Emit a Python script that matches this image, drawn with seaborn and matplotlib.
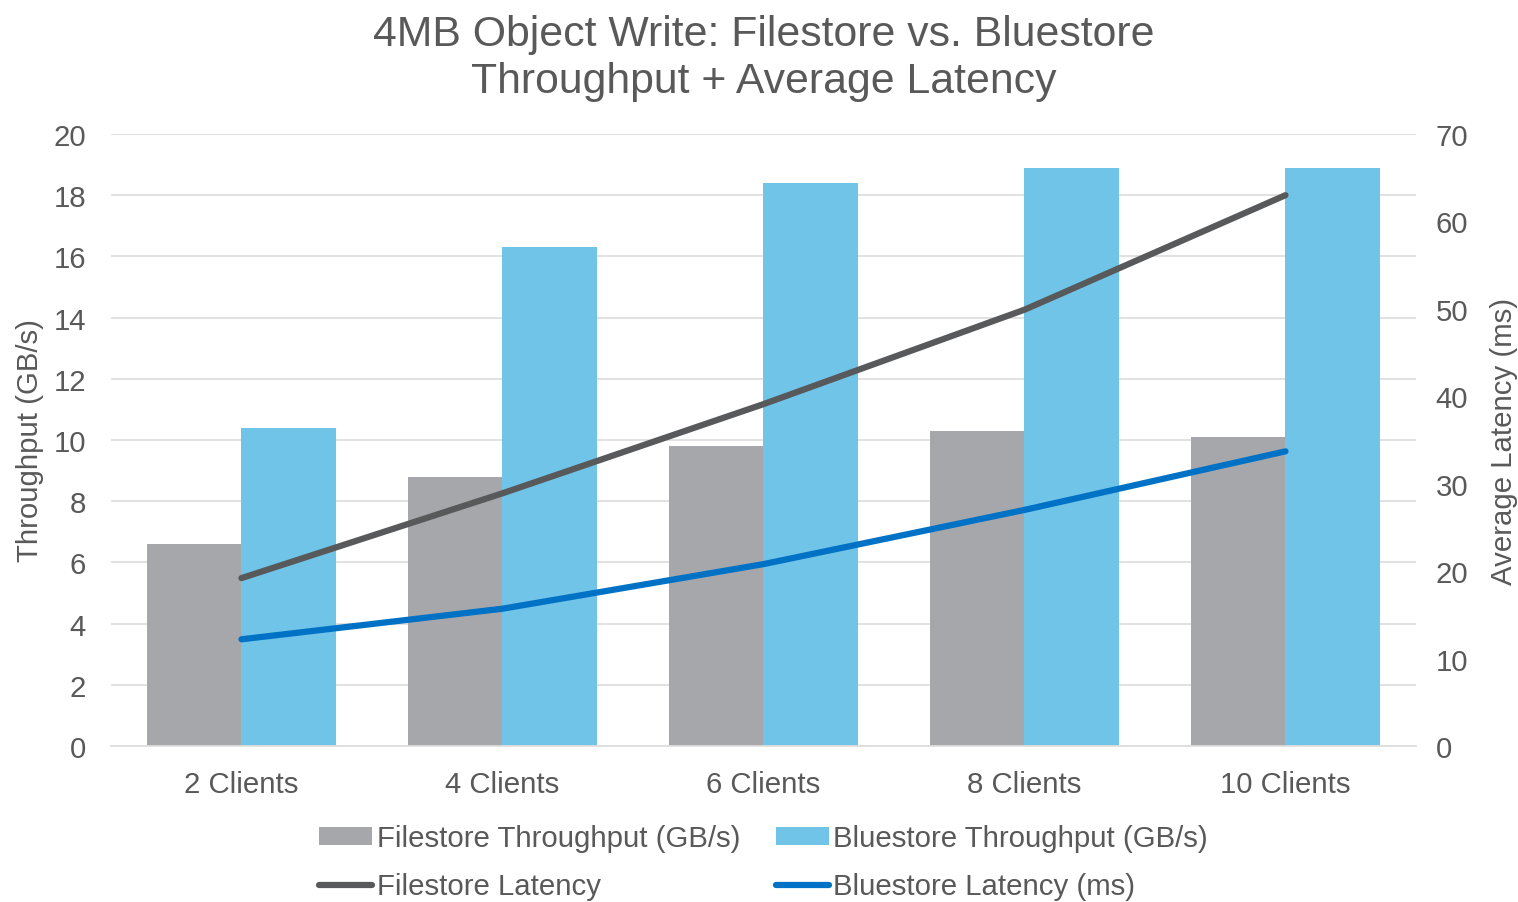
import numpy as np
import pandas as pd
import matplotlib
matplotlib.use("Agg")
import matplotlib.pyplot as plt
from matplotlib.patches import Patch
from matplotlib.lines import Line2D
import seaborn as sns

# Benchmark results
clients = ["2 Clients", "4 Clients", "6 Clients", "8 Clients", "10 Clients"]
filestore_throughput = [6.6, 8.8, 9.8, 10.3, 10.1]      # GB/s
bluestore_throughput = [10.4, 16.3, 18.4, 18.9, 18.9]   # GB/s
filestore_latency = [19.2, 28.9, 39.1, 49.9, 63.0]      # ms
bluestore_latency = [12.2, 15.7, 20.8, 27.0, 33.7]      # ms

series_names = ["Filestore Throughput (GB/s)", "Bluestore Throughput (GB/s)",
                "Filestore Latency", "Bluestore Latency (ms)"]

C_FILE_BAR = "#A6A7AB"
C_BLUE_BAR = "#70C4E8"
C_FILE_LINE = "#58595B"
C_BLUE_LINE = "#0072C6"
C_TEXT = "#595959"
C_GRID = "#DEDEDE"

sns.set_theme(style="white")
plt.rcParams["font.family"] = ["Liberation Sans", "DejaVu Sans"]
plt.rcParams["text.color"] = C_TEXT
plt.rcParams["axes.labelcolor"] = C_TEXT
plt.rcParams["xtick.color"] = C_TEXT
plt.rcParams["ytick.color"] = C_TEXT

FS = 21.2

df = pd.DataFrame({
    "clients": clients * 2,
    "throughput": filestore_throughput + bluestore_throughput,
    "store": [series_names[0]] * len(clients) + [series_names[1]] * len(clients),
})

fig = plt.figure(figsize=(15.18, 9.03), dpi=100)
ax = fig.add_axes([0.0731, 0.1728, 0.8597, 0.6777])

sns.barplot(data=df, x="clients", y="throughput", hue="store",
            palette=[C_FILE_BAR, C_BLUE_BAR], width=0.726, gap=0,
            saturation=1, linewidth=0, legend=False, ax=ax)

ax.set_xlim(-0.5, len(clients) - 0.5)
ax.set_ylim(0, 20)
ax.set_yticks(np.arange(0, 21, 2))
ax.set_axisbelow(True)
ax.yaxis.grid(True, color=C_GRID, linewidth=1.3)
ax.xaxis.grid(False)
for s in ["top", "right", "left"]:
    ax.spines[s].set_visible(False)
ax.spines["bottom"].set_color(C_GRID)
ax.spines["bottom"].set_linewidth(1.3)
ax.tick_params(axis="y", length=0, pad=18, labelsize=FS)
ax.tick_params(axis="x", length=0, pad=17, labelsize=FS)
ax.set_xlabel("")
ax.set_ylabel("Throughput (GB/s)", fontsize=FS, labelpad=7)

# Latency on the secondary axis
ax2 = ax.twinx()
xpos = np.arange(len(clients))
sns.lineplot(x=xpos, y=filestore_latency, ax=ax2, color=C_FILE_LINE,
             linewidth=4.5, legend=False)
sns.lineplot(x=xpos, y=bluestore_latency, ax=ax2, color=C_BLUE_LINE,
             linewidth=4.5, legend=False)
for ln in ax2.get_lines():
    ln.set_solid_capstyle("round")
    ln.set_solid_joinstyle("round")
ax2.set_ylim(0, 70)
ax2.set_yticks(np.arange(0, 71, 10))
ax2.grid(False)
for s in ["top", "right", "left", "bottom"]:
    ax2.spines[s].set_visible(False)
ax2.tick_params(axis="y", length=0, pad=14, labelsize=FS)
ax2.set_ylabel("Average Latency (ms)", fontsize=FS, labelpad=16)
ax2.set_xlim(-0.5, len(clients) - 0.5)

ax.set_title("4MB Object Write: Filestore vs. Bluestore\nThroughput + Average Latency",
             fontsize=30.8, color=C_TEXT, pad=30, linespacing=1.24)

handles = [
    Patch(facecolor=C_FILE_BAR, edgecolor="none"),
    Line2D([], [], color=C_FILE_LINE, linewidth=4.5, solid_capstyle="round"),
    Patch(facecolor=C_BLUE_BAR, edgecolor="none"),
    Line2D([], [], color=C_BLUE_LINE, linewidth=4.5, solid_capstyle="round"),
]
labels = [series_names[0], series_names[2], series_names[1], series_names[3]]
fig.legend(handles, labels, loc="upper center", bbox_to_anchor=(0.503, 0.086),
           ncol=2, frameon=False, fontsize=FS, handlelength=1.8,
           handleheight=0.6, handletextpad=0.15, columnspacing=1.2,
           labelspacing=0.68, borderpad=0, borderaxespad=0)

fig.savefig("out.png", dpi=100)
